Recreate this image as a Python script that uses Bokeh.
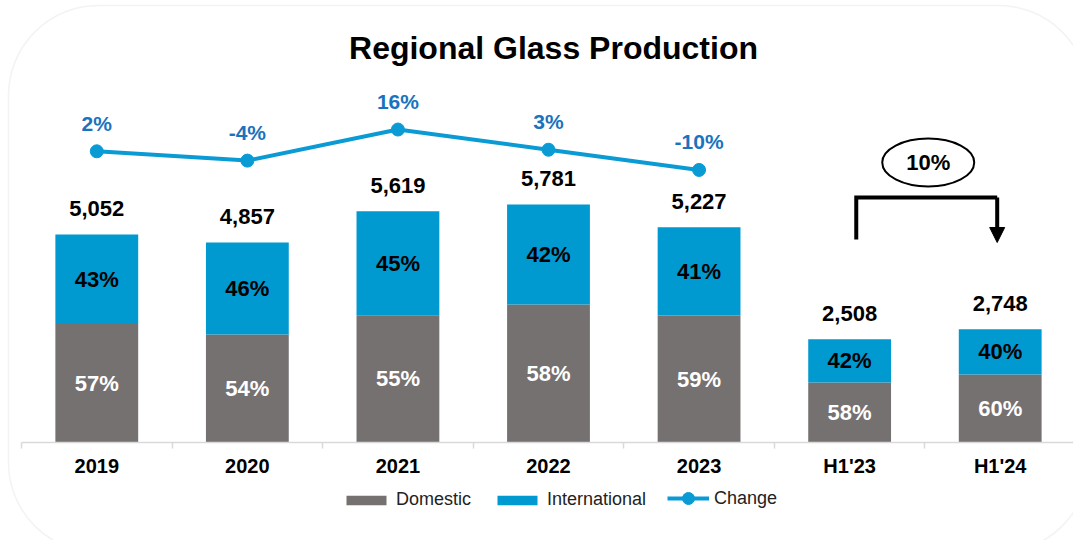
from bokeh.plotting import figure
from bokeh.models import (ColumnDataSource, Range1d, LinearAxis, FixedTicker, Label,
                          Legend, LegendItem, Arrow, NormalHead, BoxAnnotation)
from bokeh.core.properties import value
from bokeh.embed import file_html
from bokeh.resources import INLINE

# ---------------- data ----------------
categories = ["2019", "2020", "2021", "2022", "2023", "H1'23", "H1'24"]
totals = [5052, 4857, 5619, 5781, 5227, 2508, 2748]
domestic_pct = [57, 54, 55, 58, 59, 58, 60]
international_pct = [43, 46, 45, 42, 41, 42, 40]
change_categories = ["2019", "2020", "2021", "2022", "2023"]
change_pct = [2, -4, 16, 3, -10]

# ---------------- style ----------------
GRAY = "#767171"
BLUE = "#0099D0"
LINE_BLUE = "#0A9BD5"
LABEL_BLUE = "#1A73BD"
AXIS_GRAY = "#D9D9D9"
FONT = value("Liberation Sans")

W, H = 1073, 540
PX_PER_CAT = 150.57
PX_PER_UNIT = 0.041172
BASE_Y = 442  # baseline position from figure top
LEFT_EDGE = 21  # left category boundary from figure left

xs = list(range(len(categories)))
dom = [t * p / 100 for t, p in zip(totals, domestic_pct)]
cx = {c: i for i, c in enumerate(categories)}

x0 = -0.5 - LEFT_EDGE / PX_PER_CAT
p = figure(width=W, height=H,
           x_range=Range1d(x0, x0 + W / PX_PER_CAT),
           y_range=Range1d(-(H - BASE_Y) / PX_PER_UNIT, BASE_Y / PX_PER_UNIT),
           output_backend="svg", toolbar_location=None,
           x_axis_location=None, y_axis_location=None, min_border=0)
p.outline_line_color = None
p.grid.visible = False
p.background_fill_color = None
p.border_fill_color = "white"

# rounded card outline
p.add_layout(BoxAnnotation(left=8, right=1088, top=5, bottom=552,
                           left_units="canvas", right_units="canvas",
                           top_units="canvas", bottom_units="canvas",
                           fill_color=None, fill_alpha=0,
                           line_color="#D6D6D6", line_width=1.5,
                           border_radius=90, level="underlay"))

# change line on its own scale
chg_px_per_pct = 1.554
chg_zero_from_top = 153.9
p.extra_y_ranges = {"chg": Range1d(-(H - chg_zero_from_top) / chg_px_per_pct,
                                   chg_zero_from_top / chg_px_per_pct)}

src = ColumnDataSource(dict(
    x=xs, total=totals, dom=dom,
    dom_mid=[d / 2 for d in dom],
    int_mid=[d + (t - d) / 2 for d, t in zip(dom, totals)],
    total_lbl=[f"{t:,}" for t in totals],
    dom_lbl=[f"{v}%" for v in domestic_pct],
    int_lbl=[f"{v}%" for v in international_pct],
))

r_dom = p.vbar(x="x", bottom=0, top="dom", width=0.55, source=src,
               fill_color=GRAY, line_color=None)
r_int = p.vbar(x="x", bottom="dom", top="total", width=0.55, source=src,
               fill_color=BLUE, line_color=None)

p.text(x="x", y="dom_mid", text="dom_lbl", source=src, text_font=FONT,
       text_font_style="bold", text_font_size="22px", text_color="white",
       text_align="center", text_baseline="middle")
p.text(x="x", y="int_mid", text="int_lbl", source=src, text_font=FONT,
       text_font_style="bold", text_font_size="22px", text_color="black",
       text_align="center", text_baseline="middle")
p.text(x="x", y="total", text="total_lbl", source=src, text_font=FONT,
       text_font_style="bold", text_font_size="22px", text_color="black",
       text_align="center", text_baseline="alphabetic", y_offset=-26)

csrc = ColumnDataSource(dict(
    x=[cx[c] for c in change_categories], y=change_pct,
    lbl=[f"{v}%" for v in change_pct]))
r_line = p.line(x="x", y="y", source=csrc, y_range_name="chg",
                line_color=LINE_BLUE, line_width=4)
r_pts = p.scatter(x="x", y="y", source=csrc, y_range_name="chg", size=13,
                  fill_color=LINE_BLUE, line_color=LINE_BLUE)
p.text(x="x", y="y", text="lbl", source=csrc, y_range_name="chg",
       text_font=FONT, text_font_style="bold", text_font_size="21px",
       text_color=LABEL_BLUE, text_align="center", text_baseline="alphabetic",
       y_offset=-28)

# H1 comparison bracket
i1, i2 = cx["H1'23"], cx["H1'24"]
growth = round((totals[i2] / totals[i1] - 1) * 100)
xl, xr = i1 + 0.044, i2 - 0.02
y_top, y_left_end, y_tip = 5951, 4930, 4858
p.line(x=[xl, xl, xr], y=[y_left_end, y_top, y_top], line_color="black",
       line_width=4, line_join="miter")
p.add_layout(Arrow(end=NormalHead(size=15, fill_color="black", line_color="black"),
                   x_start=xr, y_start=y_top, x_end=xr, y_end=y_tip,
                   line_color="black", line_width=4))
ex, ey = (i1 + i2) / 2 + 0.022, 6801
p.ellipse(x=[ex], y=[ey], width=92, height=48, width_units="screen",
          height_units="screen", fill_color="white", line_color="black",
          line_width=2)
p.text(x=[ex], y=[ey], text=[f"{growth}%"], text_font=FONT,
       text_font_style="bold", text_font_size="22px", text_color="black",
       text_align="center", text_baseline="middle")

# x axis at baseline
ax = LinearAxis(fixed_location=0, bounds=(-0.5, len(categories) - 0.5),
                ticker=FixedTicker(ticks=xs,
                                   minor_ticks=[i - 0.5 for i in range(len(categories) + 1)]),
                major_label_overrides={i: c for i, c in enumerate(categories)})
ax.axis_line_color = AXIS_GRAY
ax.axis_line_width = 1.5
ax.major_tick_line_color = None
ax.major_tick_in = 0
ax.major_tick_out = 0
ax.minor_tick_line_color = AXIS_GRAY
ax.minor_tick_line_width = 1.5
ax.minor_tick_in = 0
ax.minor_tick_out = 6
ax.major_label_standoff = 6
ax.major_label_text_font = "Liberation Sans"
ax.major_label_text_font_style = "bold"
ax.major_label_text_font_size = "20px"
ax.major_label_text_color = "black"
p.add_layout(ax, "below")

# title
p.add_layout(Label(x=553, y=H - 47, x_units="screen", y_units="screen",
                   text="Regional Glass Production", text_align="center",
                   text_baseline="alphabetic", text_font="Liberation Sans",
                   text_font_style="bold", text_font_size="32px",
                   text_color="black"))

# legends
leg_style = dict(orientation="horizontal", label_standoff=5, spacing=21,
                 padding=0, margin=0, border_line_color=None,
                 background_fill_alpha=0, label_text_font="Liberation Sans",
                 label_text_font_size="18px", label_text_color="#222222")
legend = Legend(items=[LegendItem(label="Domestic", renderers=[r_dom]),
                       LegendItem(label="International", renderers=[r_int])],
                location=(341, 30), glyph_width=50, glyph_height=12,
                **leg_style)
legend2 = Legend(items=[LegendItem(label="Change", renderers=[r_line, r_pts])],
                 location=(667, 27), glyph_width=42, glyph_height=30,
                 **leg_style)
p.add_layout(legend)
p.add_layout(legend2)

open("out.html", "w").write(file_html(p, INLINE))
